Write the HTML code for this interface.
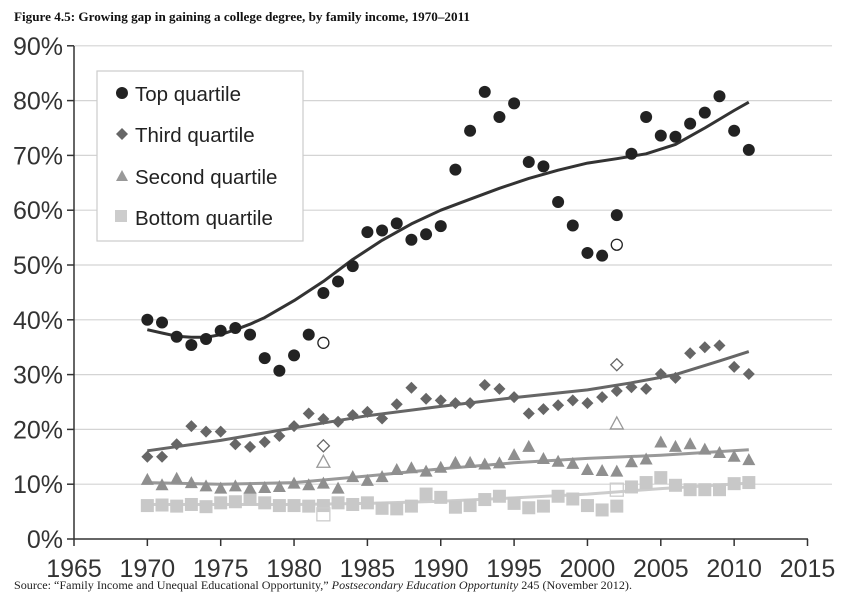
<!DOCTYPE html>
<html><head><meta charset="utf-8"><style>
body{margin:0;background:#fff;}
svg{display:block}
</style></head><body>
<svg id="s" width="846" height="597" xmlns="http://www.w3.org/2000/svg" font-family="Liberation Sans, sans-serif">
<text x="14" y="21" font-family="Liberation Serif, serif" font-weight="bold" font-size="12.5" fill="#111" textLength="456" lengthAdjust="spacingAndGlyphs">Figure 4.5: Growing gap in gaining a college degree, by family income, 1970–2011</text>
<g id="grid"></g>
<g id="lines"></g>
<g id="pts"></g>
<rect x="97" y="71" width="206" height="170" fill="#fff" stroke="#ccc" stroke-width="1.2"/>
<circle cx="122" cy="93" r="6" fill="#222"/>
<text x="135" y="101" font-size="20.5" fill="#222">Top quartile</text>
<polygon points="122,128 128,134 122,140 116,134" fill="#666"/>
<text x="135" y="142" font-size="20.5" fill="#222">Third quartile</text>
<polygon points="122,170 128,181 116,181" fill="#999"/>
<text x="135" y="184" font-size="20.5" fill="#222">Second quartile</text>
<rect x="115" y="210" width="12" height="12" fill="#ccc"/>
<text x="135" y="225" font-size="20.5" fill="#222">Bottom quartile</text>
<text x="14" y="589" font-family="Liberation Serif, serif" font-size="12" fill="#222" textLength="618" lengthAdjust="spacingAndGlyphs">Source: “Family Income and Unequal Educational Opportunity,” <tspan font-style="italic">Postsecondary Education Opportunity</tspan> 245 (November 2012).</text>
</svg>
<script>
(function(){
var NS="http://www.w3.org/2000/svg";
function X(y){return 74+(y-1965)*14.67;}
function Y(v){return 539-v*5.48;}
function el(p,t,a,txt){var e=document.createElementNS(NS,t);for(var k in a)e.setAttribute(k,a[k]);if(txt!==undefined)e.textContent=txt;document.getElementById(p).appendChild(e);return e;}
for(var i=0;i<=9;i++){var y=Y(i*10);
 if(i>0)el("grid","line",{x1:74,x2:832,y1:y,y2:y,stroke:"#d4d4d4","stroke-width":1.2});
 el("grid","line",{x1:67,x2:74,y1:y,y2:y,stroke:"#333","stroke-width":1.5});
 el("grid","text",{x:63,y:y+9,"font-size":25,"text-anchor":"end",fill:"#333"},i*10+"%");}
el("grid","line",{x1:74,x2:74,y1:46,y2:539,stroke:"#333","stroke-width":1.5});
el("grid","line",{x1:74,x2:808,y1:539,y2:539,stroke:"#333","stroke-width":1.5});
for(var yr=1965;yr<=2015;yr+=5){var x=X(yr);
 el("grid","line",{x1:x,x2:x,y1:539,y2:546,stroke:"#333","stroke-width":1.5});
 el("grid","text",{x:x,y:577,"font-size":25,"text-anchor":"middle",fill:"#333"},yr);}
var topq=[40,39.5,36.9,35.4,36.5,38,38.5,37.3,33,30.7,33.5,37.3,44.9,47,49.8,56,56.3,57.6,54.6,55.6,57.1,67.4,74.5,81.6,77,79.5,68.8,68,61.5,57.2,52.2,51.7,59.1,70.3,77,73.6,73.4,75.8,77.8,80.8,74.5,71];
var third=[15,15,17.3,20.6,19.6,19.6,17.3,16.8,17.7,18.8,20.6,22.9,21.9,21.4,22.6,23.2,22,24.6,27.6,25.6,25.3,24.8,24.8,28.1,27.4,25.9,22.9,23.7,24.4,25.3,24.8,25.9,27,27.7,27.4,30.1,29.4,33.9,35,35.3,31.4,30.1];
var sec=[10.8,9.8,11,10.2,9.6,9.2,9.6,9.2,9.3,9.5,10.1,9.8,10.1,9.2,11.3,10.6,11.3,12.6,12.9,12.3,13,13.9,13.9,13.6,13.8,15.3,16.8,14.6,14.1,13.7,12.6,12.4,12.3,14,14.5,17.6,16.8,17.3,16.3,15.7,15,14.4];
var bot=[6.1,6.2,6,6.3,5.9,6.6,6.8,7.3,6.6,6.1,6.1,6,6.1,6.6,6.3,6.6,5.6,5.5,6,8.2,7.6,5.8,6.1,7.2,7.8,6.5,5.7,6,7.8,7.3,6.1,5.3,6,9.5,10.3,11.2,9.8,9,9,9,10.1,10.3];
function line(pts,c){var d=pts.map(function(p,i){return (i?"L":"M")+X(p[0]).toFixed(1)+","+Y(p[1]).toFixed(1);}).join("");
 el("lines","path",{d:d,fill:"none",stroke:c,"stroke-width":3,"stroke-linejoin":"round"});}
line([[1970,38.2],[1971,37.6],[1972,37],[1973,36.8],[1974,36.8],[1975,37.3],[1976,38.2],[1977,39.2],[1978,40.4],[1980,43.5],[1982,47],[1984,51],[1986,54.5],[1988,57.5],[1990,60],[1992,62],[1994,64],[1996,65.8],[1998,67.3],[2000,68.6],[2002,69.4],[2004,70.3],[2006,72],[2008,75],[2010,78.2],[2011,79.7]],"#333");
line([[1970,16.1],[1975,18],[1980,20.3],[1985,22.5],[1990,24.2],[1995,25.8],[2000,27.2],[2003,28.5],[2006,30],[2009,32.5],[2011,34.2]],"#666");
line([[1970,10.3],[1975,10],[1980,10.3],[1985,11.5],[1990,12.8],[1995,13.9],[2000,14.7],[2005,15.3],[2011,16.3]],"#999");
line([[1970,6.3],[1980,6.3],[1985,6.5],[1990,6.9],[1995,7.5],[2000,8.2],[2005,9.2],[2011,10.2]],"#ccc");
function mk(type,x,y,c,open){var a=open?{fill:"none",stroke:c,"stroke-width":1.3}:{fill:c};
 if(type==0){a.cx=x;a.cy=y;a.r=open?5.5:6;el("pts","circle",a);}
 else if(type==1){a.points=[x,y-6,x+6,y,x,y+6,x-6,y].join(" ");el("pts","polygon",a);}
 else if(type==2){a.points=[x,y-7,x+6.5,y+5,x-6.5,y+5].join(" ");el("pts","polygon",a);}
 else {a.x=x-6.5;a.y=y-6.5;a.width=13;a.height=13;el("pts","rect",a);}}
[[bot,3,"#c8c8c8"],[sec,2,"#8f8f8f"],[third,1,"#666"],[topq,0,"#222"]].forEach(function(s){
 s[0].forEach(function(v,i){mk(s[1],X(1970+i),Y(v),s[2]);});});
mk(0,X(1982),Y(35.8),"#222",1);mk(0,X(2002),Y(53.7),"#222",1);
mk(1,X(1982),Y(17),"#666",1);mk(1,X(2002),Y(31.8),"#666",1);
mk(2,X(1982),Y(14),"#999",1);mk(2,X(2002),Y(21),"#999",1);
mk(3,X(1982),Y(4.5),"#ccc",1);mk(3,X(2002),Y(9),"#ccc",1);
})();
</script>
</body></html>
